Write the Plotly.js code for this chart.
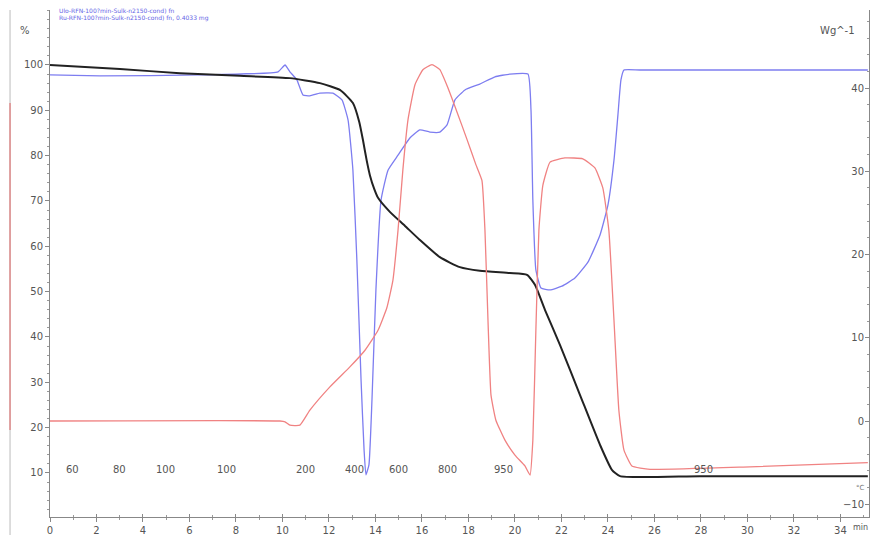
<!DOCTYPE html>
<html>
<head>
<meta charset="utf-8">
<script src="https://cdn.plot.ly/plotly-3.0.1.min.js"></script>
<style>html,body{margin:0;padding:0;background:#fff;}#chart{width:871px;height:535px;}</style>
</head>
<body>
<div id="chart"></div>
<script>
// Mass (TG), % on left axis
const tMass = [0, 3.01, 5.59, 8.17, 10.32, 11.61, 12.47, 13.03, 13.30, 13.46, 13.62, 13.76, 13.95, 14.11, 14.62, 15.27, 15.91, 16.77, 17.63, 18.49, 19.78, 20.52, 20.86, 21.29, 21.94, 22.80, 23.66, 24.17, 24.52, 27.96, 35.18];
const mass = [100, 99.1, 98.2, 97.6, 97.1, 96.0, 94.5, 91.6, 87.5, 83.5, 79.0, 75.7, 72.6, 70.7, 67.6, 64.5, 61.4, 57.6, 55.4, 54.6, 54.1, 53.7, 51.5, 46.0, 38.2, 27.2, 16.2, 10.7, 9.3, 9.3, 9.3];

// Blue curve, left axis
const tBlue = [0, 2.15, 6.45, 9.81, 10.11, 10.32, 10.62, 10.88, 11.18, 11.61, 12.17, 12.56, 12.82, 13.03, 13.20, 13.38, 13.51, 13.59, 13.72, 13.85, 14.02, 14.24, 14.54, 14.97, 15.48, 15.91, 16.34, 16.77, 17.08, 17.42, 17.85, 18.49, 19.14, 19.78, 20.56, 20.69, 20.77, 20.90, 21.12, 21.51, 22.02, 22.58, 23.14, 23.66, 24.00, 24.26, 24.43, 24.56, 24.69, 25.38, 35.18];
const blue = [97.8, 97.6, 97.8, 98.5, 100.0, 98.5, 96.7, 93.4, 93.2, 93.8, 93.8, 92.3, 87.9, 76.8, 57.0, 30.5, 15.1, 9.6, 11.8, 26.1, 50.4, 70.2, 76.8, 80.1, 83.9, 85.7, 85.2, 85.2, 86.8, 92.3, 94.5, 95.8, 97.4, 98.0, 98.0, 90.1, 70.2, 54.8, 50.8, 50.4, 51.2, 53.0, 56.5, 62.5, 69.1, 79.0, 89.0, 96.7, 98.9, 98.9, 98.9];

// Red curve (heat flow), right axis W/g
const tRed = [0, 9.89, 10.11, 10.32, 10.75, 11.18, 12.04, 12.90, 13.55, 14.11, 14.49, 14.75, 14.97, 15.18, 15.40, 15.70, 16.04, 16.43, 16.77, 17.12, 17.51, 17.94, 18.32, 18.58, 18.71, 18.84, 18.97, 19.18, 19.57, 20.00, 20.43, 20.65, 20.77, 20.90, 21.03, 21.20, 21.51, 22.15, 22.92, 23.44, 23.78, 24.04, 24.26, 24.47, 24.69, 25.03, 25.81, 30.11, 35.18];
const red = [0, 0, -0.1, -0.5, -0.5, 1.3, 4.1, 6.5, 8.5, 10.9, 13.6, 16.9, 22.9, 30.2, 36.2, 40.4, 42.2, 42.8, 42.2, 40.0, 37.1, 33.8, 30.8, 28.9, 22.9, 12.1, 3.1, 0.1, -2.3, -4.1, -5.4, -6.5, -2.3, 10.9, 22.9, 28.3, 31.1, 31.6, 31.5, 30.4, 28.0, 22.9, 12.1, 1.3, -3.5, -5.4, -5.8, -5.5, -5.0];

// Temperature labels along the time axis
const tempTimes = [0.95, 3.0, 4.95, 7.6, 11.0, 13.1, 15.0, 17.1, 19.5, 28.1];
const tempLabels = ["60", "80", "100", "100", "200", "400", "600", "800", "950", "950"];

const legendLines = ["Ulo-RFN-100?min-Sulk-n2150-cond) fn", "Ru-RFN-100?min-Sulk-n2150-cond) fn, 0.4033 mg"];

const xTicks = [0,2,4,6,8,10,12,14,16,18,20,22,24,26,28,30,32,34];

const tickFont = {family: "DejaVu Sans", size: 10, color: "#555"};

const traces = [
  {x: tRed, y: red, yaxis: "y2", mode: "lines", line: {color: "rgb(240,130,130)", width: 1.3, shape: "spline", smoothing: 0.4}, hoverinfo: "skip"},
  {x: tBlue, y: blue, mode: "lines", line: {color: "rgb(125,125,240)", width: 1.3, shape: "spline", smoothing: 0.4}, hoverinfo: "skip"},
  {x: tMass, y: mass, mode: "lines", line: {color: "#222", width: 2, shape: "spline", smoothing: 0.5}, hoverinfo: "skip"}
];

const annotations = tempTimes.map((t, i) => ({
  x: t, y: 0.093, xref: "x", yref: "paper", text: tempLabels[i], showarrow: false,
  font: tickFont, xanchor: "center", yanchor: "middle"
}));
annotations.push({x: -0.022, y: 0.96, xref: "paper", yref: "paper", text: "%", showarrow: false, font: tickFont, xanchor: "right", yanchor: "middle"});
annotations.push({x: 0.985, y: 0.96, xref: "paper", yref: "paper", text: "Wg^-1", showarrow: false, font: tickFont, xanchor: "right", yanchor: "middle"});
annotations.push({x: 0.997, y: 0.058, xref: "paper", yref: "paper", text: "°C", showarrow: false, font: {family: "DejaVu Sans", size: 7, color: "#777"}, xanchor: "right", yanchor: "middle"});
annotations.push({x: 34.45, y: -0.02, xref: "x", yref: "paper", text: "min", showarrow: false, font: {family: "DejaVu Sans", size: 8, color: "#555"}, xanchor: "left", yanchor: "middle"});
legendLines.forEach((s, i) => annotations.push({
  x: 0.008, y: 1.0 - i * 0.016, xref: "paper", yref: "paper", text: s, showarrow: false,
  font: {family: "DejaVu Sans", size: 6, color: "rgb(100,100,230)"}, xanchor: "left", yanchor: "middle"
}));

const layout = {
  width: 871, height: 535,
  margin: {l: 50, r: 2, t: 10, b: 18},
  paper_bgcolor: "#fff", plot_bgcolor: "#fff",
  showlegend: false,
  xaxis: {
    range: [0, 35.23], showgrid: false, zeroline: false,
    showline: true, linecolor: "#888", linewidth: 1,
    tickmode: "array", tickvals: xTicks, ticktext: xTicks.map(String),
    ticks: "outside", ticklen: 4, tickcolor: "#888",
    minor: {dtick: 1, ticks: "outside", ticklen: 2, tickcolor: "#999"},
    tickfont: tickFont
  },
  xaxis2: {
    overlaying: "x", matches: "x", range: [0, 35.23], showgrid: false, zeroline: false,
    showticklabels: false, ticks: "inside", ticklen: 3, tickcolor: "#888",
    tickmode: "array", tickvals: xTicks,
    minor: {dtick: 1, ticks: "inside", ticklen: 2, tickcolor: "#999"}
  },
  yaxis: {
    range: [0.29, 112.13], showgrid: false, zeroline: false,
    showline: true, linecolor: "#888", linewidth: 1,
    tickvals: [10,20,30,40,50,60,70,80,90,100],
    ticks: "outside", ticklen: 4, tickcolor: "#888",
    minor: {dtick: 2, ticks: "outside", ticklen: 2, tickcolor: "#999"},
    tickfont: tickFont
  },
  yaxis2: {
    overlaying: "y", side: "right", range: [-11.53, 49.37],
    showgrid: false, zeroline: false, showline: true, linecolor: "#888", linewidth: 1,
    tickvals: [-10, 0, 10, 20, 30, 40],
    ticks: "inside", ticklen: 4, tickcolor: "#888", ticklabelposition: "inside",
    minor: {dtick: 2, ticks: "inside", ticklen: 2, tickcolor: "#999"},
    tickfont: tickFont
  },
  annotations: annotations,
  shapes: [
    {type: "line", xref: "paper", yref: "paper", x0: -0.0488, x1: -0.0488, y0: -0.036, y1: 1.0, line: {color: "#bbb", width: 1}},
    {type: "line", xref: "paper", yref: "paper", x0: -0.0488, x1: -0.0488, y0: 0.1716, y1: 0.8166, line: {color: "rgb(225,120,120)", width: 1.2}}
  ]
};

// invisible trace to keep xaxis2 drawn
traces.push({x: [0], y: [0], xaxis: "x2", mode: "markers", marker: {opacity: 0}, hoverinfo: "skip"});

Plotly.newPlot("chart", traces, layout, {staticPlot: true, displayModeBar: false});
</script>
</body>
</html>
